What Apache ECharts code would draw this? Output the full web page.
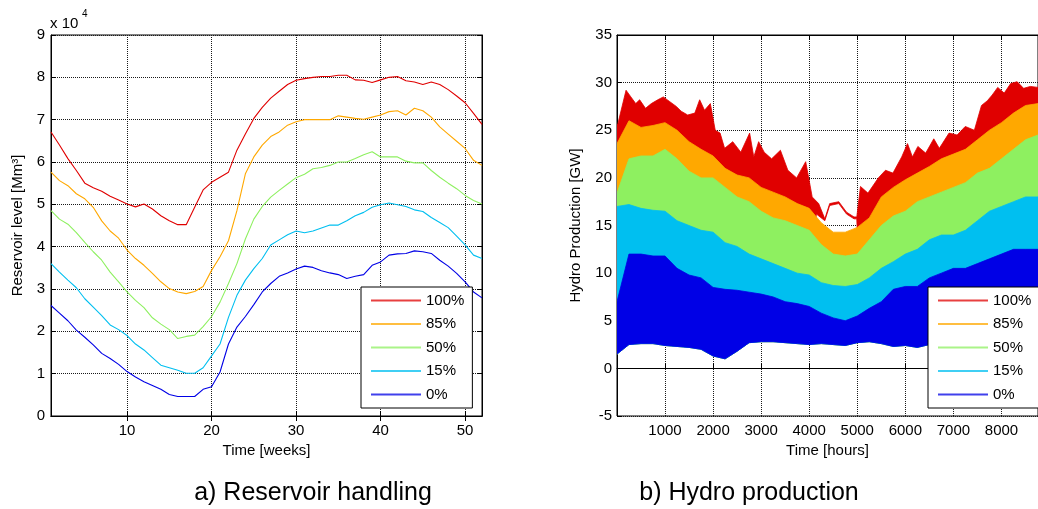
<!DOCTYPE html>
<html>
<head>
<meta charset="utf-8">
<script src="https://cdn.jsdelivr.net/npm/echarts@6/dist/echarts.min.js"></script>
<style>
html,body{margin:0;padding:0;background:#fff;}
#c{width:1038px;height:509px;}
</style>
</head>
<body>
<div id="c"></div>
<script>
// ---------- Panel a) Reservoir level (x 10^4 Mm3) ----------
const weeks = [1,2,3,4,5,6,7,8,9,10,11,12,13,14,15,16,17,18,19,20,21,22,23,24,25,26,27,28,29,30,31,32,33,34,35,36,37,38,39,40,41,42,43,44,45,46,47,48,49,50,51,52];
const res100 = [6.71,6.40,6.08,5.80,5.50,5.39,5.31,5.19,5.10,5.01,4.94,5.01,4.89,4.73,4.61,4.52,4.52,4.93,5.34,5.52,5.64,5.76,6.28,6.66,7.03,7.29,7.51,7.67,7.83,7.93,7.97,8.00,8.02,8.02,8.05,8.05,7.94,7.93,7.88,7.94,8.00,8.02,7.92,7.89,7.83,7.89,7.83,7.71,7.56,7.40,7.15,6.89];
const res85 = [5.76,5.56,5.44,5.25,5.13,4.93,4.61,4.37,4.20,3.92,3.72,3.56,3.37,3.17,3.01,2.93,2.89,2.94,3.06,3.44,3.76,4.14,4.85,5.72,6.12,6.40,6.60,6.71,6.87,6.95,7.00,7.00,7.00,7.00,7.09,7.06,7.03,7.01,7.06,7.11,7.19,7.21,7.11,7.27,7.21,7.06,6.83,6.66,6.49,6.32,6.04,5.92];
const res50 = [4.85,4.65,4.53,4.33,4.10,3.88,3.68,3.40,3.17,2.93,2.73,2.56,2.32,2.17,2.04,1.83,1.88,1.91,2.11,2.35,2.69,3.13,3.60,4.18,4.65,4.95,5.17,5.33,5.48,5.63,5.71,5.84,5.87,5.92,6.00,6.00,6.08,6.17,6.24,6.12,6.12,6.12,6.02,5.98,5.98,5.80,5.64,5.50,5.37,5.21,5.09,5.01];
const res15 = [3.60,3.40,3.21,3.03,2.77,2.57,2.37,2.15,2.04,1.90,1.70,1.56,1.38,1.20,1.14,1.08,1.01,1.01,1.14,1.42,1.70,2.33,2.85,3.21,3.48,3.72,4.04,4.16,4.28,4.37,4.33,4.37,4.44,4.51,4.51,4.61,4.73,4.81,4.93,4.99,5.03,4.99,4.95,4.87,4.83,4.69,4.57,4.45,4.25,4.04,3.80,3.72];
const res0 = [2.61,2.43,2.25,2.03,1.86,1.68,1.48,1.36,1.22,1.05,0.92,0.81,0.72,0.63,0.51,0.46,0.46,0.46,0.63,0.69,1.04,1.70,2.10,2.35,2.63,2.93,3.13,3.30,3.38,3.47,3.54,3.51,3.43,3.38,3.34,3.25,3.30,3.34,3.56,3.64,3.80,3.83,3.84,3.90,3.88,3.84,3.68,3.54,3.37,3.17,2.93,2.79];
const weekTicks = [10,20,30,40,50];

// ---------- Panel b) Hydro production envelopes (GW) ----------
const hourGrid = [1,250,500,750,1000,1250,1500,1750,2000,2250,2500,2750,3000,3250,3500,3750,4000,4250,4500,4750,5000,5250,5500,5750,6000,6250,6500,6750,7000,7250,7500,7750,8000,8250,8500,8760];
const prod85Top = [23.6,26.0,25.3,25.5,25.8,25.0,23.8,23.0,22.3,21.0,20.3,20.0,19.0,18.5,18.0,17.3,16.8,15.3,14.3,14.3,14.8,15.8,18.0,19.0,19.8,20.5,21.2,22.0,22.5,23.0,24.0,25.0,25.8,26.8,27.6,27.8];
const prod50Top = [18.4,22.0,22.3,22.3,23.0,22.0,20.7,20.0,20.0,19.0,18.0,17.5,16.5,15.8,15.5,15.0,14.5,13.0,12.0,11.8,12.0,13.5,15.0,16.0,16.5,17.5,18.0,18.5,19.0,19.5,20.5,21.0,22.0,23.0,24.0,24.5];
const prod15Top = [17.0,17.2,16.8,16.6,16.5,15.5,15.0,14.5,14.3,13.2,12.8,12.0,11.5,11.0,10.5,10.0,9.8,9.0,8.7,8.6,8.8,9.5,10.5,11.2,12.0,12.5,13.5,14.0,14.0,14.5,15.5,16.5,17.0,17.5,18.0,18.0];
const prod0Top = [7.0,12.0,12.0,11.8,11.8,10.5,9.8,9.5,8.5,8.3,8.2,8.0,7.8,7.5,7.0,6.8,6.5,5.8,5.3,5.0,5.5,6.3,7.0,8.3,8.6,8.6,9.5,10.0,10.5,10.5,11.0,11.5,12.0,12.5,12.5,12.5];
const prod0Bottom = [1.5,2.5,2.6,2.6,2.4,2.3,2.2,2.0,1.3,1.0,1.8,2.7,2.8,2.8,2.7,2.6,2.5,2.6,2.5,2.4,2.7,2.8,2.6,2.3,2.4,2.2,2.5,2.5,2.5,2.5,2.5,2.5,2.5,2.5,2.5,2.5];
const redTopHours = [1,20,189,290,391,472,594,715,850,965,1100,1235,1336,1471,1620,1721,1822,1943,2045,2146,2240,2409,2577,2760,2847,2948,3063,3218,3401,3556,3738,3927,4062,4197,4325,4426,4615,4777,4932,4990,5067,5222,5438,5587,5742,5924,6045,6147,6261,6423,6592,6707,6909,7078,7247,7436,7584,7706,7807,7922,8057,8191,8326,8461,8600,8760];
const redTopGW = [25.5,25.7,29.2,28.5,27.8,28.2,27.3,27.8,28.2,28.5,28.0,27.5,27.0,26.6,26.8,28.2,27.1,27.8,25.0,24.7,23.1,23.8,22.7,24.7,22.2,23.8,22.7,22.0,22.9,20.8,20.0,21.7,18.0,17.3,15.7,17.3,17.5,16.4,15.9,15.9,19.1,18.4,20.0,20.8,20.5,22.2,23.6,22.2,23.3,22.6,24.1,23.1,24.7,24.5,25.4,25.0,27.6,28.1,28.7,29.5,28.9,29.9,30.1,29.4,29.6,29.5];
const redBottomHours = [1,4000,4150,4325,4426,4615,4777,4932,4990,5030,8760];
const redBottomGW = [10,10,16.2,15.5,17.1,17.3,16.2,15.7,15.7,10,10];
const hourTicks = [1000,2000,3000,4000,5000,6000,7000,8000];

const scenarioNames = ['100%','85%','50%','15%','0%'];
const colors = ['#e00000','#ffa800','#8ef060','#00bff0','#0000e6'];

const FONT = '"Liberation Sans", Arial, sans-serif';
const chart = echarts.init(document.getElementById('c'), null, {renderer: 'canvas'});

function pairs(xs, ys) { return xs.map((x, i) => [x, ys[i]]); }

function band(name, color, topX, topY, botX, botY) {
  return {
    type: 'custom', name: name, xAxisIndex: 2, yAxisIndex: 2, clip: true,
    itemStyle: {color: color},
    data: [[topX[0], topY[0]]],
    renderItem: function (params, api) {
      const pts = [];
      for (let i = 0; i < topX.length; i++) pts.push(api.coord([topX[i], topY[i]]));
      for (let i = botX.length - 1; i >= 0; i--) pts.push(api.coord([botX[i], botY[i]]));
      return {type: 'polygon', shape: {points: pts},
        style: {fill: color, stroke: color, lineWidth: 0.8}};
    }
  };
}

const gridLine = {show: true, lineStyle: {color: '#1a1a1a', type: [1, 1], width: 1}};
const axisLineBlack = {show: true, lineStyle: {color: '#000', width: 1}};
const labelStyle = {color: '#000', fontSize: 15, fontFamily: FONT};
const plainNum = v => String(v);

const legendBase = {
  orient: 'vertical', top: 287, itemWidth: 50, itemHeight: 2, itemGap: 8.5,
  padding: [6, 8, 6, 10], borderColor: '#000', borderWidth: 1, backgroundColor: '#fff',
  textStyle: {fontSize: 15, fontFamily: FONT, color: '#000'}, selectedMode: false,
  data: scenarioNames.map((n, i) => ({name: n, icon: 'rect', itemStyle: {color: colors[i], opacity: 0.75}}))
};

const option = {
  animation: false,
  backgroundColor: '#fff',
  grid: [
    {left: 51, top: 35, width: 431, height: 381, show: true, borderColor: '#000', borderWidth: 1, backgroundColor: 'transparent'},
    {left: 617, top: 35, width: 433, height: 381, show: true, borderColor: '#000', borderWidth: 1, backgroundColor: 'transparent'}
  ],
  xAxis: [
    {type: 'value', gridIndex: 0, min: 1, max: 52, position: 'bottom',
     name: 'Time [weeks]', nameLocation: 'middle', nameGap: 27, nameTextStyle: labelStyle,
     axisLine: axisLineBlack,
     axisTick: {show: true, inside: true, length: 5, customValues: weekTicks, lineStyle: {color: '#000'}},
     axisLabel: Object.assign({customValues: weekTicks, margin: 7, formatter: plainNum}, labelStyle),
     splitLine: gridLine},
    {type: 'value', gridIndex: 0, min: 1, max: 52, position: 'top',
     axisLine: axisLineBlack,
     axisTick: {show: true, inside: true, length: 5, customValues: weekTicks, lineStyle: {color: '#000'}},
     axisLabel: {show: false}, splitLine: {show: false}},
    {type: 'value', gridIndex: 1, min: 1, max: 8760, position: 'bottom',
     name: 'Time [hours]', nameLocation: 'middle', nameGap: 27, nameTextStyle: labelStyle,
     axisLine: axisLineBlack,
     axisTick: {show: true, inside: true, length: 5, customValues: hourTicks, lineStyle: {color: '#000'}},
     axisLabel: Object.assign({customValues: hourTicks, margin: 7, formatter: plainNum}, labelStyle),
     splitLine: gridLine},
    {type: 'value', gridIndex: 1, min: 1, max: 8760, position: 'top',
     axisLine: axisLineBlack,
     axisTick: {show: true, inside: true, length: 5, customValues: hourTicks, lineStyle: {color: '#000'}},
     axisLabel: {show: false}, splitLine: {show: false}}
  ],
  yAxis: [
    {type: 'value', gridIndex: 0, min: 0, max: 9, interval: 1, position: 'left',
     name: 'Reservoir level [Mm³]', nameLocation: 'middle', nameGap: 26, nameTextStyle: labelStyle,
     axisLine: axisLineBlack,
     axisTick: {show: true, inside: true, length: 5, lineStyle: {color: '#000'}},
     axisLabel: Object.assign({margin: 6, formatter: plainNum}, labelStyle),
     splitLine: gridLine},
    {type: 'value', gridIndex: 0, min: 0, max: 9, interval: 1, position: 'right',
     axisLine: axisLineBlack,
     axisTick: {show: true, inside: true, length: 5, lineStyle: {color: '#000'}},
     axisLabel: {show: false}, splitLine: {show: false}},
    {type: 'value', gridIndex: 1, min: -5, max: 35, interval: 5, position: 'left',
     name: 'Hydro Production [GW]', nameLocation: 'middle', nameGap: 34, nameTextStyle: labelStyle,
     axisLine: axisLineBlack,
     axisTick: {show: true, inside: true, length: 5, lineStyle: {color: '#000'}},
     axisLabel: Object.assign({margin: 5, formatter: plainNum}, labelStyle),
     splitLine: gridLine}
  ],
  legend: [
    Object.assign({left: 361}, legendBase),
    Object.assign({left: 928}, legendBase)
  ],
  graphic: [
    {type: 'text', left: 50, top: 16, style: {text: 'x 10', fontSize: 15, fontFamily: FONT, fill: '#000'}},
    {type: 'text', left: 82, top: 9, style: {text: '4', fontSize: 10, fontFamily: FONT, fill: '#000'}},
    {type: 'text', x: 313, y: 493, style: {text: 'a) Reservoir handling', fontSize: 25, fontFamily: FONT, fill: '#000', textAlign: 'center', textVerticalAlign: 'middle'}},
    {type: 'text', x: 749, y: 493, style: {text: 'b) Hydro production', fontSize: 25, fontFamily: FONT, fill: '#000', textAlign: 'center', textVerticalAlign: 'middle'}}
  ],
  series: [
    {type: 'line', name: '100%', xAxisIndex: 0, yAxisIndex: 0, data: pairs(weeks, res100), showSymbol: false, lineStyle: {color: colors[0], width: 1.1}, itemStyle: {color: colors[0]}},
    {type: 'line', name: '85%', xAxisIndex: 0, yAxisIndex: 0, data: pairs(weeks, res85), showSymbol: false, lineStyle: {color: colors[1], width: 1.1}, itemStyle: {color: colors[1]}},
    {type: 'line', name: '50%', xAxisIndex: 0, yAxisIndex: 0, data: pairs(weeks, res50), showSymbol: false, lineStyle: {color: colors[2], width: 1.1}, itemStyle: {color: colors[2]}},
    {type: 'line', name: '15%', xAxisIndex: 0, yAxisIndex: 0, data: pairs(weeks, res15), showSymbol: false, lineStyle: {color: colors[3], width: 1.1}, itemStyle: {color: colors[3]}},
    {type: 'line', name: '0%', xAxisIndex: 0, yAxisIndex: 0, data: pairs(weeks, res0), showSymbol: false, lineStyle: {color: colors[4], width: 1.1}, itemStyle: {color: colors[4]}},
    band('100%', colors[0], redTopHours, redTopGW, redBottomHours, redBottomGW),
    band('85%', colors[1], hourGrid, prod85Top, hourGrid, prod0Bottom),
    band('50%', colors[2], hourGrid, prod50Top, hourGrid, prod0Bottom),
    band('15%', colors[3], hourGrid, prod15Top, hourGrid, prod0Bottom),
    band('0%', colors[4], hourGrid, prod0Top, hourGrid, prod0Bottom)
  ]
};
chart.setOption(option);
</script>
</body>
</html>
